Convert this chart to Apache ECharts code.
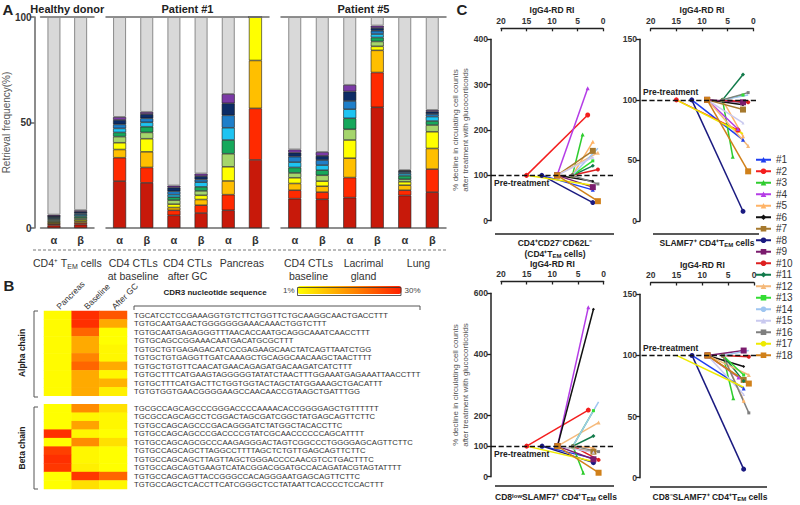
<!DOCTYPE html>
<html><head><meta charset="utf-8">
<script src="https://cdn.jsdelivr.net/npm/echarts@6/dist/echarts.min.js"></script>
<style>html,body{margin:0;padding:0;background:#fff}#c{width:800px;height:505px}</style>
</head><body><div id="c"></div>
<script>
const FONT = "'Liberation Sans', Arial, sans-serif";

// ---------- Panel A data ----------
const segColors = ['#c8190a','#ff2a00','#ffbf00','#ffff00','#a5d56c','#16a85b','#1ec4f2','#1f7fc9','#0d2c66','#7b3aa6'];
const restColor = '#d9d9d9';
const hdCats = ['CD4 TEM α','CD4 TEM β'];
const hdGroups = ['CD4⁺ T_EM cells'];
const hdClones = [
  [1.2,0.6,0.6,0.5,0.6,0.6,0.5,0.5,0.6,0.6],
  [1.6,0.8,0.8,0.7,0.8,0.8,0.7,0.7,0.8,0.7]
];
const p1Cats = ['baseline α','baseline β','after GC α','after GC β','pancreas α','pancreas β'];
const p1Groups = ['CD4 CTLs\nat baseline','CD4 CTLs\nafter GC','Pancreas'];
const p1Clones = [
  [22.2,11.1,3.9,3.2,2.9,2.0,1.9,1.9,2.1,1.4],
  [21.4,7.3,7.4,6.2,3.0,2.7,2.1,1.9,2.0,1.0],
  [6.0,2.4,1.3,1.6,1.9,1.4,1.2,1.6,1.8,0.9],
  [7.1,3.7,2.7,2.0,2.1,1.9,2.2,1.3,1.6,1.2],
  [8.4,7.4,6.5,6.7,6.2,6.5,5.8,5.9,5.7,4.4],
  [32.3,24.4,22.7,20.6,0,0,0,0,0,0]
];
const p5Cats = ['baseline α','baseline β','lacrimal α','lacrimal β','lung α','lung β'];
const p5Groups = ['CD4 CTLs\nbaseline','Lacrimal\ngland','Lung'];
const p5Clones = [
  [13.9,4.0,3.2,2.7,2.3,2.6,2.5,2.6,1.9,1.5],
  [13.6,3.4,2.8,2.4,2.8,2.4,2.4,2.4,2.0,1.8],
  [14.4,9.5,9.2,8.6,5.1,5.2,4.3,3.9,4.5,3.1],
  [57.2,16.5,10.5,1.9,2.3,1.9,1.6,1.6,1.3,1.1],
  [15.4,2.5,2.4,1.6,1.2,1.6,1.0,0.8,0.6,0.3],
  [17.0,10.9,9.8,7.9,3.2,1.9,2.1,1.2,1.2,0.7]
];

// ---------- Panel B data ----------
const heatCols = ['Pancreas','Baseline','After GC'];
const alphaSeqs = [
  'TGCATCCTCCGAAAGGTGTCTTCTGGTTCTGCAAGGCAACTGACCTTT',
  'TGTGCAATGAACTGGGGGGGAAACAAACTGGTCTTT',
  'TGTGCAATGAGAGGGTTTAACACCAATGCAGGCAAATCAACCTTT',
  'TGTGCAGCCGGAAACAATGACATGCGCTTT',
  'TGTGCTGTGAGAGACATCCCGAGAAGCAACTATCAGTTAATCTGG',
  'TGTGCTGTGAGGTTGATCAAAGCTGCAGGCAACAAGCTAACTTTT',
  'TGTGCTGTGTTCAACATGAACAGAGATGACAAGATCATCTTT',
  'TGTGCTTTCATGAAGTAGGGGGTATATCTAACTTTGGAAATGAGAAATTAACCTTT',
  'TGTGCTTTCATGACTTCTGGTGGTACTAGCTATGGAAAGCTGACATTT',
  'TGTGTGGTGAACGGGGAAGCCAACAACCGTAAGCTGATTTGG'
];
const betaSeqs = [
  'TGCGCCAGCAGCCCGGGACCCCAAAACACCGGGGAGCTGTTTTTT',
  'TGCGCCAGCAGCCTCGGACTAGCGATCGGCTATGAGCAGTTCTTC',
  'TGTGCCAGCAGCCCGACAGGGATCTATGGCTACACCTTC',
  'TGTGCCAGCAGCCCGACCCCGTATCGCAACCCCCCAGCATTTT',
  'TGTGCCAGCAGCGCCCAAGAGGGACTAGTCGGCCCTGGGGAGCAGTTCTTC',
  'TGTGCCAGCAGCTTAGGCCTTTTAGCTCTGTTGAGCAGTTCTTC',
  'TGTGCCAGCAGCTTAGTTAGCTGGGACCCCAACGTCCTGACTTTC',
  'TGTGCCAGCAGTGAAGTCATACGGACGGATGCCACAGATACGTAGTATTTT',
  'TGTGCCAGCAGTTACCGGGCCACAGGGAATGAGCAGTTCTTC',
  'TGTGCCAGCTCACCTTCATCGGGCTCCTATAATTCACCCCTCCACTTT'
];
// retrieval frequency (%) per clone: [Pancreas, Baseline, After GC]; 0 = not detected
const alphaFreq = [
  [1.5,28,23],[1.5,28,12],[1.5,21,0],[1.5,12,0],[1.5,12,2],
  [1.5,17,2],[1.5,21,12],[1.5,12,2],[1.5,12,11],[1.5,12,3]
];
const betaFreq = [
  [0,16,5],[0,2,2],[0,13,2],[28,2,0],[0,16,5],
  [26,2,0],[28,2,0],[27,3,0],[0,27,21],[0,5,2]
];

// ---------- Panel C data ----------
const patients = ['#1','#2','#3','#4','#5','#6','#7','#8','#9','#10','#11','#12','#13','#14','#15','#16','#17','#18'];
const patientColors = ['#1f3ff0','#f41e1e','#2ecc2e','#b43ce6','#ffb366','#111111','#a6792e','#1a1a80','#7b1c6e',
  '#dd1f1f','#117a4a','#f5b97a','#33dd33','#9ec5f0','#c9c9ef','#7f7f7f','#eeea00','#d0801a'];
const patientSymbols = ['triangle','circle','triangle','triangle','triangle','diamond','rect','circle','rect',
  'circle','diamond','triangle','rect','none','triangle','rect','none','rect'];
const patientSymbolSize = [4,5,4,4,4,3,6,5,6,4,4,4,3,0,3,3,0,6];
const preRI  = [12,15,6,9,6,9,9,12,9,6,6,9,6,6,9,6,15,9];
const postRI = [2,3,4,3,2,2,2,2,2,1,2,1,2,1,2,1,2,1];
const cd4TemDecline  = [68,233,190,292,174,87,154,40,74,113,121,150,132,160,140,81,78,43];
const slamfDecline   = [67,75,53,76,70,96,92,8,98,98,121,62,104,104,81,106,72,41];
const cd8lowDecline  = [60,218,13,554,95,548,82,46,57,55,133,177,216,245,80,82,50,13];
const cd8negDecline  = [73,null,65,82,63,91,80,7,104,99,79,84,84,104,68,53,74,77];
const riTicks = [0,5,10,15,20];

// ---------- build ----------
const grids = [], xAxes = [], yAxes = [], series = [], graphics = [];
const dark = '#222';

function barPanel(box, cats, groups, clones, title, showY, key) {
  grids.push(box);
  const gi = grids.length - 1;
  xAxes.push({type:'category', gridIndex:gi, data:cats, position:'bottom',
    axisLine:{lineStyle:{color:'#6b6b6b', width:1.5}}, axisTick:{show:false},
    axisLabel:{interval:0, formatter:v => v.slice(-1), fontWeight:'bold', fontSize:11, color:'#333', margin:6}});
  const xi = xAxes.length - 1;
  xAxes.push({type:'category', gridIndex:gi, data:groups, position:'bottom', offset:22,
    axisLine:{show:false, onZero:false}, axisTick:{show:false},
    axisLabel:{interval:0, margin:6, fontSize:10.5, lineHeight:13.5, color:'#333',
      formatter:v => v.replace('T_EM','T{sub|EM}'),
      rich:{sub:{fontSize:7, verticalAlign:'bottom', color:'#333'}}}});
  xAxes.push({type:'category', gridIndex:gi, data:cats, position:'top',
    axisLine:{onZero:false, lineStyle:{color:'#6b6b6b', width:1.5}}, axisTick:{show:false}, axisLabel:{show:false},
    name:title, nameLocation:'middle', nameGap:3,
    nameTextStyle:{fontWeight:'bold', fontSize:11, color:dark}});
  yAxes.push({type:'value', gridIndex:gi, min:0, max:100, interval:50, show:showY, offset:6,
    axisLine:{show:true, lineStyle:{color:'#666', width:1.5}},
    axisTick:{show:true, length:4, lineStyle:{color:'#666', width:1.5}},
    axisLabel:{fontSize:10, fontWeight:'bold', color:'#333', margin:3},
    splitLine:{show:false},
    name:'Retrieval frequency(%)', nameLocation:'middle', nameGap:17,
    nameTextStyle:{fontSize:10, color:'#555'}});
  const yi = yAxes.length - 1;
  for (let k = 0; k < 10; k++) {
    series.push({type:'bar', xAxisIndex:xi, yAxisIndex:yi, stack:key, barWidth:13, silent:true,
      data: clones.map(c => c[k]),
      itemStyle:{color:segColors[k], borderColor:'#1a1a1a', borderWidth:0.6}});
  }
  series.push({type:'bar', xAxisIndex:xi, yAxisIndex:yi, stack:key, barWidth:13, silent:true,
    data: clones.map(c => +(100 - c.reduce((a, b) => a + b, 0)).toFixed(2)),
    itemStyle:{color:restColor, borderColor:'#8a8a8a', borderWidth:1}});
}
barPanel({left:37, top:17, width:57, height:211}, hdCats, hdGroups, hdClones, 'Healthy donor', true, 'hd');
barPanel({left:106, top:17, width:163, height:211}, p1Cats, p1Groups, p1Clones, 'Patient #1', false, 'p1');
barPanel({left:281, top:17, width:165, height:211}, p5Cats, p5Groups, p5Clones, 'Patient #5', false, 'p5');

// heatmap
grids.push({left:44, top:311, width:83, height:178});
const hg = grids.length - 1;
const hmRows = [...alphaSeqs, '', ...betaSeqs];
xAxes.push({type:'category', gridIndex:hg, data:heatCols, position:'top',
  axisLine:{show:false}, axisTick:{show:false},
  axisLabel:{interval:0, rotate:-45, fontSize:8.5, color:'#333', margin:3}});
const hx = xAxes.length - 1;
yAxes.push({type:'category', gridIndex:hg, data:hmRows, inverse:true, position:'right',
  axisLine:{show:false}, axisTick:{show:false},
  axisLabel:{interval:0, fontSize:7.7, color:'#333', margin:7}});
const hy = yAxes.length - 1;
const hmData = [];
alphaFreq.forEach((r, i) => r.forEach((v, j) => hmData.push([j, i, v])));
betaFreq.forEach((r, i) => r.forEach((v, j) => hmData.push([j, i + alphaSeqs.length + 1, v])));
series.push({type:'heatmap', xAxisIndex:hx, yAxisIndex:hy, data:hmData, silent:true, itemStyle:{borderWidth:0}});
const heatIdx = series.length - 1;

// panel C charts
const cCharts = [
  {vals:cd4TemDecline, grid:{left:491, top:39.3, width:122, height:181.4}, top:{left:501, top:28.3, width:102, height:1}, nameGap:14,
   xmin:-1.96, xmax:21.96, ymax:400, yint:100, ticks:null, ytitle:true, preLbl:'insideEndBottom'},
  {vals:slamfDecline, grid:{left:640, top:39.3, width:116, height:181.7}, top:{left:650.7, top:28.3, width:102.6, height:1}, nameGap:14,
   xmin:-0.53, xmax:22.09, ymax:150, yint:50, ticks:null, ytitle:false, preLbl:'insideEndTop'},
  {vals:cd8lowDecline, grid:{left:491, top:293.3, width:122, height:183.4}, top:{left:501, top:281.5, width:102.7, height:1}, nameGap:12,
   xmin:-1.81, xmax:21.95, ymax:600, yint:100, ticks:[0,100,200,400,600], ytitle:true, preLbl:'insideEndBottom'},
  {vals:cd8negDecline, grid:{left:640, top:294.3, width:116, height:183.4}, top:{left:650.7, top:282.5, width:103.3, height:1}, nameGap:12,
   xmin:-0.39, xmax:22.07, ymax:150, yint:50, ticks:null, ytitle:false, preLbl:'insideEndTop'}
];
cCharts.forEach(c => {
  grids.push(c.grid);
  const g = grids.length - 1;
  xAxes.push({type:'value', gridIndex:g, show:false, inverse:true, min:c.xmin, max:c.xmax});
  const xi = xAxes.length - 1;
  const yA = {type:'value', gridIndex:g, min:0, max:c.ymax, interval:c.yint,
    axisLine:{show:true, onZero:false, lineStyle:{color:dark, width:1.5}},
    axisTick:{show:true, length:4, lineStyle:{color:dark, width:1.3}},
    axisLabel:{fontSize:8.5, fontWeight:'bold', color:'#333', margin:3},
    splitLine:{show:false}};
  if (c.ticks) { yA.axisTick.customValues = c.ticks; yA.axisLabel.customValues = c.ticks; }
  if (c.ytitle) {
    yA.name = '% decline in circulating cell counts\nafter treatment with glucocorticoids';
    yA.nameLocation = 'middle'; yA.nameGap = 19;
    yA.nameTextStyle = {fontSize:8, color:'#555', lineHeight:9.5};
  }
  yAxes.push(yA);
  const yi = yAxes.length - 1;
  // top RI axis
  grids.push(c.top);
  const tg = grids.length - 1;
  xAxes.push({type:'value', gridIndex:tg, position:'top', inverse:true, min:0, max:20, interval:5,
    axisLine:{show:true, onZero:false, lineStyle:{color:dark, width:1.3}},
    axisTick:{show:true, inside:true, length:3, customValues:riTicks, lineStyle:{color:dark, width:1.3}},
    axisLabel:{fontSize:8.5, fontWeight:'bold', color:'#333', margin:3},
    splitLine:{show:false},
    name:'IgG4-RD RI', nameLocation:'middle', nameGap:c.nameGap,
    nameTextStyle:{fontSize:8.5, fontWeight:'bold', color:dark}});
  yAxes.push({type:'value', gridIndex:tg, show:false, min:0, max:1});
  patients.forEach((p, i) => {
    if (c.vals[i] == null) return;
    const s = {type:'line', name:p, xAxisIndex:xi, yAxisIndex:yi, silent:true,
      data:[[preRI[i], 100], [postRI[i], c.vals[i]]],
      symbol:patientSymbols[i], symbolSize:patientSymbolSize[i], showSymbol:true,
      itemStyle:{color:patientColors[i]}, lineStyle:{color:patientColors[i], width:1.5}, z:3};
    if (i === 0) {
      s.markLine = {silent:true, symbol:'none', z:5,
        lineStyle:{type:'dashed', color:'#111', width:1.3},
        label:{formatter:'Pre-treatment', position:c.preLbl, fontWeight:'bold', fontSize:8.5, color:dark, distance:[3, 3]},
        data:[{yAxis:100}]};
    }
    series.push(s);
  });
});

// ---------- decorations ----------
function gText(x, y, text, o) {
  return {type:'text', x, y, rotation:o.rot || 0, silent:true, z:10,
    style:{text, fill:o.color || dark, fontSize:o.size, fontWeight:o.bold ? 'bold' : 'normal', fontFamily:FONT,
      textAlign:o.align || 'center', textVerticalAlign:'middle', align:o.align || 'center', verticalAlign:'middle',
      rich:o.rich}};
}
function gLine(pts, o) {
  return {type:'polyline', silent:true, z:10, shape:{points:pts},
    style:{stroke:o.color || '#444', lineWidth:o.w || 1, fill:null, lineDash:o.dash || null}};
}
const richC = {
  sub:{fontSize:6, fontWeight:'bold', fontFamily:FONT, verticalAlign:'bottom', fill:dark, color:dark},
  sup:{fontSize:6, fontWeight:'bold', fontFamily:FONT, verticalAlign:'top', fill:dark, color:dark}
};
graphics.push(gText(8, 9, 'A', {size:15, bold:true}));
graphics.push(gText(9, 285, 'B', {size:15, bold:true}));
graphics.push(gText(462, 9, 'C', {size:15, bold:true}));
graphics.push(gLine([[33,250],[446,250]], {color:'#777', dash:[3,2]}));
graphics.push(gText(22, 353, 'Alpha chain', {size:8.5, bold:true, rot:Math.PI/2}));
graphics.push(gText(22, 448, 'Beta chain', {size:8.5, bold:true, rot:Math.PI/2}));
graphics.push(gLine([[38,311],[34,311],[34,397],[38,397]], {color:'#555'}));
graphics.push(gLine([[38,407],[34,407],[34,489],[38,489]], {color:'#555'}));
graphics.push(gText(215, 292, 'CDR3 nucleotide sequence', {size:8, bold:true}));
graphics.push(gLine([[134,310],[134,306],[420,306],[420,310]], {color:'#555'}));
graphics.push({type:'rect', silent:true, z:10, shape:{x:297.5, y:287.5, width:103.5, height:8},
  style:{fill:null, stroke:'#333', lineWidth:0.8}});
graphics.push(gLine([[495,234],[614,234]], {color:dark, w:1.5}));
graphics.push(gText(555, 243, 'CD4⁺CD27⁻CD62L⁻', {size:8.5, bold:true, rich:richC}));
graphics.push(gText(555, 254, '(CD4⁺T{sub|EM} cells)', {size:8.5, bold:true, rich:richC}));
graphics.push(gLine([[653,234],[759,234]], {color:dark, w:1.5}));
graphics.push(gText(707, 243, 'SLAMF7⁺ CD4⁺T{sub|EM} cells', {size:8.5, bold:true, rich:richC}));
graphics.push(gLine([[495,486],[614,486]], {color:dark, w:1.5}));
graphics.push(gText(556, 497, 'CD8{sup|low}SLAMF7⁺ CD4⁺T{sub|EM} cells', {size:8.5, bold:true, rich:richC}));
graphics.push(gLine([[650,487],[767,487]], {color:dark, w:1.5}));
graphics.push(gText(710, 497, 'CD8⁻SLAMF7⁺ CD4⁺T{sub|EM} cells', {size:8.5, bold:true, rich:richC}));

const chart = echarts.init(document.getElementById('c'), null, {renderer:'svg', width:800, height:505});
chart.setOption({
  animation:false,
  backgroundColor:'#fff',
  textStyle:{fontFamily:FONT},
  grid:grids, xAxis:xAxes, yAxis:yAxes, series,
  visualMap:{type:'continuous', seriesIndex:heatIdx, min:1, max:30, orient:'horizontal',
    left:268, top:271, itemWidth:8, itemHeight:104, text:['30%','1%'], textGap:3, calculable:false,
    inRange:{color:['#ffff00','#ff2000']}, outOfRange:{color:'#c0c0c0'},
    textStyle:{fontSize:8, color:'#444'}},
  legend:{data:patients, orient:'vertical', left:755, top:154, padding:0, itemWidth:15, itemHeight:7, itemGap:0,
    selectedMode:false, textStyle:{fontSize:10, color:'#333', lineHeight:11.5}},
  graphic:graphics
});
</script></body></html>
